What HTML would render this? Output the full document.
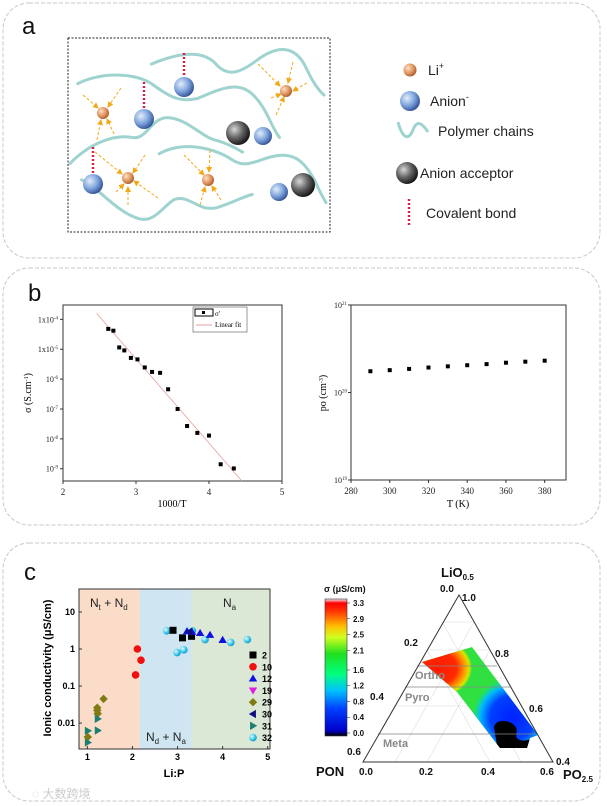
<!DOCTYPE html>
<html><head><meta charset="utf-8">
<style>
html,body{margin:0;padding:0;background:#fff;}
body{width:607px;height:806px;overflow:hidden;position:relative;font-family:"Liberation Sans","Noto Sans CJK SC",sans-serif;}
svg{position:absolute;left:0;top:0;}
</style></head>
<body>
<svg id="fig" width="607" height="806" viewBox="0 0 607 806" xmlns="http://www.w3.org/2000/svg">
<defs>
 <radialGradient id="gLi" cx="0.35" cy="0.35" r="0.7"><stop offset="0" stop-color="#fbe0c8"/><stop offset="0.6" stop-color="#e0925c"/><stop offset="1" stop-color="#a85a2a"/></radialGradient>
 <radialGradient id="gAn" cx="0.35" cy="0.35" r="0.7"><stop offset="0" stop-color="#e4eefa"/><stop offset="0.55" stop-color="#7ea4dc"/><stop offset="1" stop-color="#2f4f95"/></radialGradient>
 <radialGradient id="gAc" cx="0.35" cy="0.35" r="0.7"><stop offset="0" stop-color="#d8d8d8"/><stop offset="0.5" stop-color="#666"/><stop offset="1" stop-color="#111"/></radialGradient>
 <radialGradient id="gCy" cx="0.35" cy="0.35" r="0.7"><stop offset="0" stop-color="#e8fbff"/><stop offset="0.6" stop-color="#3cc8ea"/><stop offset="1" stop-color="#1497c0"/></radialGradient>
 <marker id="arr" markerWidth="6" markerHeight="6" refX="5" refY="3" orient="auto"><path d="M0,0 L6,3 L0,6 z" fill="#f0aa18"/></marker>
 <linearGradient id="cbar" x1="0" y1="1" x2="0" y2="0">
  <stop offset="0" stop-color="#000"/><stop offset="0.04" stop-color="#0000c8"/><stop offset="0.2" stop-color="#0040ff"/><stop offset="0.33" stop-color="#00c0ff"/><stop offset="0.45" stop-color="#00ff80"/><stop offset="0.6" stop-color="#20e020"/><stop offset="0.72" stop-color="#d0ff20"/><stop offset="0.8" stop-color="#ffc000"/><stop offset="0.9" stop-color="#ff4000"/><stop offset="0.97" stop-color="#ff0000"/><stop offset="1" stop-color="#f0f0f0"/>
 </linearGradient>
 <radialGradient id="gRed" cx="0.5" cy="0.5" r="0.5"><stop offset="0" stop-color="#ff1a00"/><stop offset="0.55" stop-color="#ff2a00"/><stop offset="0.75" stop-color="#ff9000"/><stop offset="0.9" stop-color="#d8e800"/><stop offset="1" stop-color="#40e030" stop-opacity="0"/></radialGradient>
 <radialGradient id="gBlue" cx="0.5" cy="0.5" r="0.5"><stop offset="0" stop-color="#0020ff"/><stop offset="0.55" stop-color="#0040ff"/><stop offset="0.8" stop-color="#00b8ff"/><stop offset="1" stop-color="#00e0c0" stop-opacity="0"/></radialGradient>
 <clipPath id="tern"><polygon points="422,662 472,647 538,735 530,738 527,748 500,748 457,692"/></clipPath>
</defs>

<rect x="3" y="3" width="597" height="255" rx="26" fill="none" stroke="#c8c8c8" stroke-dasharray="4,2"/>
<rect x="3" y="268" width="597" height="257" rx="26" fill="none" stroke="#c8c8c8" stroke-dasharray="4,2"/>
<rect x="3" y="543" width="597" height="258" rx="26" fill="none" stroke="#c8c8c8" stroke-dasharray="4,2"/>

<!-- PANEL A -->
<text x="22" y="34" font-size="24" fill="#111">a</text>
<rect x="68" y="38" width="262" height="194" fill="none" stroke="#222" stroke-dasharray="2,1.5"/>
<g fill="none" stroke="#9fd3cf" stroke-width="3" stroke-linecap="round" transform="translate(68,38) scale(0.388,0.326) translate(-175,-105)">
 <path vector-effect="non-scaling-stroke" d="M200,245 C270,205 350,215 390,245 C430,280 460,305 510,290 C570,260 620,230 660,290 C690,330 700,380 720,410"/>
 <path vector-effect="non-scaling-stroke" d="M390,185 C440,160 520,130 560,190 C590,225 620,210 660,175 C710,130 760,120 790,200 C810,250 825,270 835,280"/>
 <path vector-effect="non-scaling-stroke" d="M180,490 C230,430 290,400 340,410 C380,420 390,340 440,350 C490,360 520,410 560,420 C590,430 610,445 625,455"/>
 <path vector-effect="non-scaling-stroke" d="M410,460 C470,420 550,440 600,480 C640,510 670,470 720,465 C770,460 790,500 810,540 C825,580 835,600 840,610"/>
 <path vector-effect="non-scaling-stroke" d="M210,540 C260,570 300,640 360,660 C400,670 420,620 450,600 C490,585 510,640 560,625 C600,610 630,590 650,585"/>
</g>
<g stroke="#d0244c" stroke-width="2.5" stroke-dasharray="2,2">
 <line x1="184" y1="53" x2="184" y2="80"/><line x1="144" y1="82" x2="144" y2="112"/><line x1="93" y1="147" x2="93" y2="175"/>
</g>
<g stroke="#f0aa18" stroke-width="1" stroke-dasharray="3,2" fill="none" marker-end="url(#arr)">
 <line x1="83" y1="95" x2="98" y2="108"/><line x1="121" y1="88" x2="108" y2="107"/><line x1="97" y1="140" x2="101" y2="120"/><line x1="114" y1="134" x2="107" y2="119"/>
 <line x1="95" y1="152" x2="122" y2="174"/><line x1="145" y1="155" x2="133" y2="173"/><line x1="116" y1="192" x2="124" y2="184"/><line x1="128" y1="205" x2="128" y2="187"/><line x1="158" y1="198" x2="134" y2="181"/>
 <line x1="184" y1="155" x2="204" y2="175"/><line x1="210" y1="150" x2="209" y2="172"/><line x1="200" y1="205" x2="205" y2="187"/><line x1="221" y1="200" x2="212" y2="186"/>
 <line x1="258" y1="64" x2="280" y2="86"/><line x1="293" y1="62" x2="288" y2="83"/><line x1="307" y1="83" x2="293" y2="91"/><line x1="271" y1="98" x2="281" y2="94"/><line x1="276" y1="115" x2="284" y2="97"/>
</g>
<g>
 <circle cx="184" cy="87" r="10" fill="url(#gAn)"/><circle cx="144" cy="119" r="10" fill="url(#gAn)"/><circle cx="93" cy="184" r="10" fill="url(#gAn)"/><circle cx="263" cy="136" r="9" fill="url(#gAn)"/><circle cx="279" cy="192" r="9" fill="url(#gAn)"/>
 <circle cx="238" cy="133" r="12" fill="url(#gAc)"/><circle cx="303" cy="185" r="12" fill="url(#gAc)"/>
 <circle cx="103" cy="113" r="6" fill="url(#gLi)"/><circle cx="128" cy="178" r="6" fill="url(#gLi)"/><circle cx="208" cy="180" r="6" fill="url(#gLi)"/><circle cx="286" cy="91" r="6" fill="url(#gLi)"/>
</g>
<g font-size="14" fill="#222">
 <circle cx="410" cy="70" r="6.5" fill="url(#gLi)"/><text x="428" y="75">Li<tspan font-size="9" dy="-6">+</tspan></text>
 <circle cx="410" cy="101" r="10" fill="url(#gAn)"/><text x="430" y="106">Anion<tspan font-size="9" dy="-6">-</tspan></text>
 <path d="M398,122 C402,137 408,142 413,130 C416,122 420,120 428,132" fill="none" stroke="#9fd3cf" stroke-width="3"/><text x="438" y="136">Polymer chains</text>
 <circle cx="407" cy="173" r="11" fill="url(#gAc)"/><text x="420" y="178">Anion acceptor</text>
 <line x1="409" y1="199" x2="409" y2="226" stroke="#d0244c" stroke-width="2.5" stroke-dasharray="2,2"/><text x="426" y="218">Covalent bond</text>
</g>

<!-- PANEL B -->
<text x="28" y="301" font-size="24" fill="#111">b</text>
<g id="b1"></g>
<g id="b2"></g>

<!-- PANEL C -->
<text x="24" y="580" font-size="24" fill="#111">c</text>
<g id="c1"></g>
<text x="32" y="798" font-size="12" fill="#ccc">◌ 大数跨境</text>

<g font-family="Liberation Sans, sans-serif">
 <g stroke="#ddd" stroke-width="0.6" fill="none">
  <line x1="378" y1="734" x2="535" y2="734"/><line x1="395" y1="706" x2="520" y2="706"/><line x1="410" y1="678" x2="505" y2="678"/><line x1="427" y1="650" x2="490" y2="650"/><line x1="442" y1="622" x2="475" y2="622"/>
  <line x1="395" y1="762" x2="474" y2="622"/><line x1="427" y1="762" x2="490" y2="650"/><line x1="490" y1="762" x2="427" y2="650"/><line x1="521" y1="762" x2="442" y2="622"/>
 </g>
 <g clip-path="url(#tern)">
  <rect x="410" y="640" width="140" height="115" fill="#30e040"/>
  <ellipse cx="512" cy="718" rx="40" ry="40" fill="url(#gBlue)"/>
  <ellipse cx="437" cy="668" rx="36" ry="30" fill="url(#gRed)"/>
  <path d="M494,727 C496,718 510,720 515,726 C520,732 512,737 520,740 C526,742 530,738 535,740 L525,752 L498,752 Z" fill="#000"/>
 </g>
 <g stroke="#888" stroke-width="0.8">
  <line x1="417" y1="666" x2="497" y2="666"/><line x1="405" y1="687" x2="510" y2="687"/><line x1="378" y1="734" x2="535" y2="734"/>
 </g>
 <g font-size="11" font-weight="bold" fill="#888">
  <text x="415" y="679">Ortho</text>
  <text x="405" y="701">Pyro</text>
  <text x="383" y="747">Meta</text>
 </g>
 <polygon points="459,595 363,762 553,762" fill="none" stroke="#333" stroke-width="1"/>
 <g font-size="10" font-weight="bold" fill="#111">
  <text x="440" y="592">0.0</text><text x="462" y="601">1.0</text>
  <text x="404" y="646">0.2</text><text x="495" y="657">0.8</text>
  <text x="370" y="700">0.4</text><text x="529" y="712">0.6</text>
  <text x="347" y="755">0.6</text><text x="556" y="765">0.4</text>
  <text x="359" y="775">0.0</text><text x="419" y="775">0.2</text><text x="481" y="775">0.4</text><text x="540" y="775">0.6</text>
 </g>
 <text x="441" y="577" font-size="13" font-weight="bold" fill="#111">LiO<tspan font-size="8" dy="3">0.5</tspan></text>
 <text x="316" y="776" font-size="13" font-weight="bold" fill="#111">PON</text>
 <text x="563" y="779" font-size="13" font-weight="bold" fill="#111">PO<tspan font-size="8" dy="3">2.5</tspan></text>
 <g>
  <text x="324" y="592" font-size="9" font-weight="bold" fill="#111">σ (μS/cm)</text>
  <rect x="325" y="599" width="22" height="137" fill="url(#cbar)" stroke="#333" stroke-width="0.6"/>
  <g id="cbticks" font-size="8" font-weight="bold" fill="#111"></g>
 </g>
</g>
</svg>

<script>
const NS='http://www.w3.org/2000/svg';
function mk(parent,tag,attrs,txt){const e=document.createElementNS(NS,tag);for(const k in attrs)e.setAttribute(k,attrs[k]);if(txt!==undefined)e.textContent=txt;parent.appendChild(e);return e;}

const b1X=[2.62,2.69,2.77,2.84,2.93,3.02,3.12,3.22,3.33,3.44,3.57,3.70,3.84,4.00,4.16,4.34];
const b1LogSigma=[-4.32,-4.38,-4.94,-5.04,-5.29,-5.34,-5.61,-5.76,-5.79,-6.34,-7.00,-7.57,-7.80,-7.89,-8.85,-8.99];
const b1FitX=[2.46,4.45];
const b1FitLog=[-3.80,-9.41];
const b1XTicks=[2,3,4,5];
const b1YTicks=[-4,-5,-6,-7,-8,-9];
const b1YLabels=['1x10','1x10','10','10','10','10'];

const b2T=[290,300,310,320,330,340,350,360,370,380];
const b2Po=[1.75e20,1.80e20,1.86e20,1.93e20,1.99e20,2.05e20,2.11e20,2.19e20,2.25e20,2.31e20];
const b2XTicks=[280,300,320,340,360,380];
const b2YTicks=[19,20,21];

const cRegions=[[0.815,2.16,'#fbdcc8'],[2.16,3.31,'#cfe6f2'],[3.31,5.05,'#dce8d6']];
const cXTicks=[1,2,3,4,5];
const cYTicks=[10,1,0.1,0.01];
const cYLabels=['10','1','0.1','0.01'];
const s2x=[2.90,3.11,3.31], s2y=[3.2,2.0,2.2];
const s10x=[2.11,2.19,2.07], s10y=[1.0,0.5,0.2];
const s12x=[3.21,3.32,3.50,3.72,4.00], s12y=[3.0,2.9,2.7,2.4,1.75];
const s29x=[1.36,1.22,1.22,1.23,1.01], s29y=[0.045,0.026,0.022,0.018,0.0042];
const s30x=[3.26], s30y=[2.9];
const s31x=[1.01,1.01,1.23,1.23], s31y=[0.0062,0.0030,0.013,0.0063];
const s32x=[2.76,3.33,2.99,3.14,3.61,4.18,4.55], s32y=[3.1,3.1,0.8,0.95,1.8,1.5,1.8];
const legendNames=['2','10','12','19','29','30','31','32'];
const cbarVals=[3.3,2.9,2.5,2.1,1.6,1.2,0.8,0.4,0.0];

const ser='font-family:"Liberation Serif",serif';
(function(){
 const g=document.getElementById('b1');
 const L=63,R=282,T=305,B=481;
 const xs=v=>L+(v-2)/3*(R-L);
 const ys=l=>T+(-3.52-l)/(-3.52+9.41)*(B-T);
 mk(g,'rect',{x:L,y:T,width:R-L,height:B-T,fill:'none',stroke:'#333','stroke-width':1});
 b1XTicks.forEach(v=>{mk(g,'line',{x1:xs(v),x2:xs(v),y1:B,y2:B+3,stroke:'#333'});const t=mk(g,'text',{x:xs(v),y:B+14,'font-size':9,'text-anchor':'middle',style:ser,fill:'#222'},String(v));});
 b1YTicks.forEach((l,i)=>{mk(g,'line',{x1:L,x2:L-3,y1:ys(l),y2:ys(l),stroke:'#333'});const t=mk(g,'text',{x:L-5,y:ys(l)+3,'font-size':8,'text-anchor':'end',style:ser,fill:'#222'});t.textContent=b1YLabels[i];mk(t,'tspan',{dy:-3,'font-size':5},String(l));});
 const fit=mk(g,'line',{x1:xs(b1FitX[0]),y1:ys(b1FitLog[0]),x2:xs(b1FitX[1]),y2:ys(b1FitLog[1]),stroke:'#e4a0a0','stroke-width':0.8});
 
 b1X.forEach((x,i)=>{const p=mk(g,'rect',{x:xs(x)-2,y:ys(b1LogSigma[i])-2,width:4,height:4,fill:'#000'});});
 const lg=mk(g,'g',{});
 mk(lg,'rect',{x:193,y:307,width:54,height:25,fill:'#fff',stroke:'#555','stroke-width':0.6});
 mk(lg,'rect',{x:195,y:309,width:18,height:7,fill:'none',stroke:'#000','stroke-width':1});
 mk(lg,'rect',{x:202,y:311,width:3,height:3,fill:'#000'});
 mk(lg,'text',{x:215,y:316,'font-size':7,style:ser},"σ'");
 mk(lg,'line',{x1:196,x2:212,y1:325,y2:325,stroke:'#e4a0a0'});
 mk(lg,'text',{x:215,y:327,'font-size':7,style:ser},'Linear fit');
 const xt=mk(g,'text',{x:172,y:507,'font-size':10,'text-anchor':'middle',style:ser},'1000/T');
 const yt=mk(g,'text',{x:0,y:0,'font-size':10,'text-anchor':'middle',style:ser,transform:'translate(31,393) rotate(-90)'},'σ (S.cm');mk(yt,'tspan',{dy:-3,'font-size':6},'-1');mk(yt,'tspan',{dy:3},')');
 
})();
(function(){
 const g=document.getElementById('b2');
 const L=351,R=566,T=305,B=480;
 const xs=v=>L+(v-280)/111*(R-L);
 const ys=l=>T+(21-l)/2*(B-T);
 mk(g,'rect',{x:L,y:T,width:R-L,height:B-T,fill:'none',stroke:'#333','stroke-width':1});
 b2XTicks.forEach(v=>{mk(g,'line',{x1:xs(v),x2:xs(v),y1:B,y2:B+3,stroke:'#333'});const t=mk(g,'text',{x:xs(v),y:B+14,'font-size':9,'text-anchor':'middle',style:ser,fill:'#222'},String(v));});
 b2YTicks.forEach(l=>{mk(g,'line',{x1:L,x2:L-3,y1:ys(l),y2:ys(l),stroke:'#333'});const t=mk(g,'text',{x:L-4,y:ys(l)+3,'font-size':8,'text-anchor':'end',style:ser,fill:'#222'},'10');mk(t,'tspan',{dy:-3,'font-size':5},String(l));});
 b2T.forEach((t,i)=>{const p=mk(g,'rect',{x:xs(t)-2,y:ys(Math.log10(b2Po[i]))-2,width:4,height:4,fill:'#000'});});
 const xt=mk(g,'text',{x:458,y:507,'font-size':10,'text-anchor':'middle',style:ser},'T (K)');
 const yt=mk(g,'text',{x:0,y:0,'font-size':10,'text-anchor':'middle',style:ser,transform:'translate(326,393) rotate(-90)'},'po (cm');mk(yt,'tspan',{dy:-3,'font-size':6},'-3');mk(yt,'tspan',{dy:3},')');
 
})();
(function(){
 const g=document.getElementById('c1');
 const L=79,R=270,T=589,B=749;
 const xs=v=>L+(v-0.815)/(5.05-0.815)*(R-L);
 const ys=v=>{const l=Math.log10(v);return T+(1.62-l)/(1.62+2.70)*(B-T);};
 cRegions.forEach(r=>{const e=mk(g,'rect',{x:xs(r[0]),y:T,width:xs(r[1])-xs(r[0]),height:B-T,fill:r[2]});});
 mk(g,'rect',{x:L,y:T,width:R-L,height:B-T,fill:'none',stroke:'#333','stroke-width':1});
 const bf='font-weight:bold;font-family:"Liberation Sans",sans-serif';
 cXTicks.forEach(v=>{mk(g,'line',{x1:xs(v),x2:xs(v),y1:B,y2:B-3,stroke:'#333'});const t=mk(g,'text',{x:xs(v),y:B+11,'font-size':9,'text-anchor':'middle',style:bf},String(v));});
 cYTicks.forEach((v,i)=>{mk(g,'line',{x1:L,x2:L+3,y1:ys(v),y2:ys(v),stroke:'#333'});const t=mk(g,'text',{x:L-4,y:ys(v)+3,'font-size':9,'text-anchor':'end',style:bf},cYLabels[i]);});
 const rl=(x,y,a,sa,b,sb,name)=>{const t=mk(g,'text',{x:x,y:y,'font-size':12,fill:'#222'},a);mk(t,'tspan',{dy:3,'font-size':8},sa);if(b){mk(t,'tspan',{dy:-3},b);mk(t,'tspan',{dy:3,'font-size':8},sb);}};
 rl(90,607,'N','t',' + N','d','region-label-nt-nd');
 rl(223,607,'N','a','','','region-label-na');
 rl(146,741,'N','d',' + N','a','region-label-nd-na');
 const sq=(x,y)=>mk(g,'rect',{x:x-3.5,y:y-3.5,width:7,height:7,fill:'#000'});
 const ci=(x,y,f)=>mk(g,'circle',{cx:x,cy:y,r:3.8,fill:f});
 const tri=(x,y,f,d)=>{const s=4.2;let pts;
  if(d==='up')pts=[[x,y-s],[x+s,y+s*0.7],[x-s,y+s*0.7]];
  else if(d==='down')pts=[[x,y+s],[x+s,y-s*0.7],[x-s,y-s*0.7]];
  else if(d==='left')pts=[[x-s,y],[x+s*0.7,y-s],[x+s*0.7,y+s]];
  else if(d==='right')pts=[[x+s,y],[x-s*0.7,y-s],[x-s*0.7,y+s]];
  else pts=[[x,y-s],[x+s,y],[x,y+s],[x-s,y]];
  return mk(g,'polygon',{points:pts.map(p=>p.join(',')).join(' '),fill:f});};
 const draw=(xa,ya,fn,name)=>xa.forEach((x,i)=>{const e=fn(xs(x),ys(ya[i]));});
 draw(s29x,s29y,(x,y)=>tri(x,y,'#7f7a12','dia'),'series-29-point');
 draw(s31x,s31y,(x,y)=>tri(x,y,'#1a8070','right'),'series-31-point');
 draw(s10x,s10y,(x,y)=>ci(x,y,'#f01010'),'series-10-point');
 draw(s32x,s32y,(x,y)=>ci(x,y,'url(#gCy)'),'series-32-point');
 draw(s2x,s2y,sq,'series-2-point');
 draw(s12x,s12y,(x,y)=>tri(x,y,'#1010e0','up'),'series-12-point');
 draw(s30x,s30y,(x,y)=>tri(x,y,'#101080','left'),'series-30-point');
 const lf=[x=>sq(x[0],x[1]),x=>ci(x[0],x[1],'#f01010'),x=>tri(x[0],x[1],'#1010e0','up'),x=>tri(x[0],x[1],'#e020e0','down'),x=>tri(x[0],x[1],'#7f7a12','dia'),x=>tri(x[0],x[1],'#101080','left'),x=>tri(x[0],x[1],'#1a8070','right'),x=>ci(x[0],x[1],'url(#gCy)')];
 legendNames.forEach((n,i)=>{const y=655+11.8*i;const m=lf[i]([253,y]);const t=mk(g,'text',{x:262,y:y+3.5,'font-size':9,style:bf},n);});
 const xt=mk(g,'text',{x:174,y:777,'font-size':11,'text-anchor':'middle',style:bf},'Li:P');
 const yt=mk(g,'text',{x:0,y:0,'font-size':11,'text-anchor':'middle',style:bf,transform:'translate(51,668) rotate(-90)'},'Ionic conductivity (μS/cm)');
})();
(function(){
 const g=document.getElementById('cbticks');
 const ys=v=>733-(v/3.3)*(733-603);
 cbarVals.forEach(v=>{mk(g,'line',{x1:347,x2:350,y1:ys(v),y2:ys(v),stroke:'#333','stroke-width':0.6});const t=mk(g,'text',{x:353,y:ys(v)+3},v.toFixed(1));});
})();
</script>
</body></html>
